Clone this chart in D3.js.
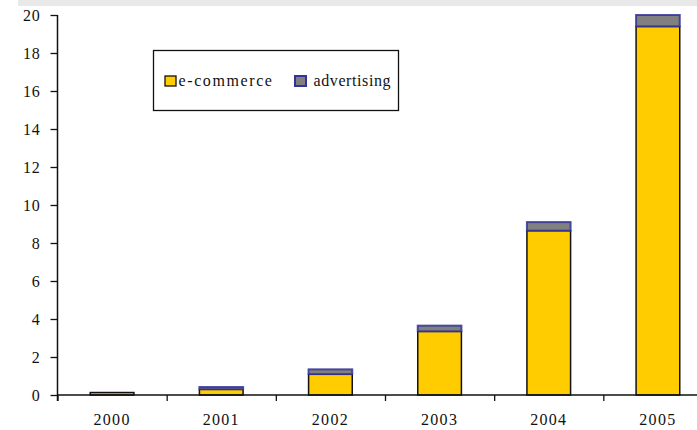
<!DOCTYPE html>
<html>
<head>
<meta charset="utf-8">
<script src="https://cdn.jsdelivr.net/npm/d3@7"></script>
<style>
  html, body { margin: 0; padding: 0; background: #fff; }
  svg { display: block; }
  text { font-family: "Liberation Serif", "Times New Roman", serif; fill: #111; }
</style>
</head>
<body>
<svg id="chart" width="697" height="430"></svg>
<script>
// Revenue by year, split into e-commerce and advertising
const years = ["2000", "2001", "2002", "2003", "2004", "2005"];
const ecommerce = [0.13, 0.3, 1.1, 3.35, 8.65, 19.4];
const advertising = [0, 0.12, 0.25, 0.3, 0.45, 0.6];
const seriesNames = ["e-commerce", "advertising"];
const yTicks = [0, 2, 4, 6, 8, 10, 12, 14, 16, 18, 20];

const svg = d3.select("#chart");
const W = 697, H = 430;
const serif = "'Liberation Serif', 'Times New Roman', serif";

// light band across the top
svg.append("rect")
  .attr("x", 18).attr("y", 0)
  .attr("width", W - 18).attr("height", 6)
  .attr("fill", "#e9e9e9");

const plotLeft = 57.5, plotTop = 15, plotBottom = 395;
const x = d3.scaleBand()
  .domain(years)
  .range([plotLeft, 712.5])
  .paddingInner(0.6)
  .paddingOuter(0.3);
const y = d3.scaleLinear().domain([0, 20]).range([plotBottom, plotTop]);

const rows = years.map((yr, i) => ({ year: yr, "e-commerce": ecommerce[i], "advertising": advertising[i] }));
const stacked = d3.stack().keys(seriesNames)(rows);

const fills = { "e-commerce": "#ffcc00", "advertising": "#808080" };
const strokes = { "e-commerce": "#111", "advertising": "#333399" };
const strokeW = { "e-commerce": 1.5, "advertising": 2 };

// bars: e-commerce first, advertising on top (empty segments skipped)
svg.append("g").selectAll("g")
  .data(stacked)
  .join("g")
  .each(function (layer) {
    d3.select(this).selectAll("rect")
      .data(layer.filter(d => d[1] > d[0]))
      .join("rect")
      .attr("x", d => x(d.data.year))
      .attr("width", x.bandwidth())
      .attr("y", d => y(d[1]))
      .attr("height", d => y(d[0]) - y(d[1]))
      .attr("fill", fills[layer.key])
      .attr("stroke", strokes[layer.key])
      .attr("stroke-opacity", layer.key === "advertising" ? 0.85 : 1)
      .attr("stroke-width", strokeW[layer.key]);
  });

// y axis
const yAxis = d3.axisLeft(y).tickValues(yTicks).tickSize(7).tickPadding(10).tickFormat(d3.format("d"));
const gy = svg.append("g").attr("transform", `translate(${plotLeft},0)`).call(yAxis);
gy.select(".domain").remove();
gy.selectAll(".tick line").attr("stroke", "#111").attr("stroke-width", 1.3);
gy.selectAll(".tick text")
  .style("font-family", serif)
  .style("font-size", "16px")
  .style("letter-spacing", "0.8px")
  .attr("fill", "#111");
svg.append("line")
  .attr("x1", plotLeft).attr("x2", plotLeft)
  .attr("y1", plotTop).attr("y2", plotBottom + 6)
  .attr("stroke", "#111").attr("stroke-width", 1.5);

// x axis: baseline, boundary ticks, year labels
svg.append("line")
  .attr("x1", plotLeft).attr("x2", W)
  .attr("y1", plotBottom).attr("y2", plotBottom)
  .attr("stroke", "#111").attr("stroke-width", 1.5);

const step = x.step();
const boundaries = d3.range(years.length + 1);
const xb = d3.scaleLinear().domain([0, years.length]).range([plotLeft, plotLeft + step * years.length]);
const gxTicks = svg.append("g").attr("transform", `translate(0,${plotBottom})`)
  .call(d3.axisBottom(xb).tickValues(boundaries).tickSize(6).tickFormat(""));
gxTicks.select(".domain").remove();
gxTicks.selectAll(".tick line").attr("stroke", "#111").attr("stroke-width", 1.3);

const gx = svg.append("g").attr("transform", `translate(0,${plotBottom})`)
  .call(d3.axisBottom(x).tickSize(0).tickPadding(19));
gx.select(".domain").remove();
gx.selectAll(".tick text")
  .style("font-family", serif)
  .style("font-size", "16px")
  .style("letter-spacing", "1.3px")
  .attr("fill", "#111");

// legend
const lg = svg.append("g");
lg.append("rect")
  .attr("x", 153.5).attr("y", 50.5)
  .attr("width", 245).attr("height", 60)
  .attr("fill", "#fff").attr("stroke", "#111").attr("stroke-width", 1.3);
const legendPos = [{ sx: 165, tx: 178.5, ls: "1.6px" }, { sx: 295, tx: 313.5, ls: "0.6px" }];
seriesNames.forEach((name, i) => {
  lg.append("rect")
    .attr("x", legendPos[i].sx).attr("y", 76)
    .attr("width", 11).attr("height", 10)
    .attr("fill", fills[name])
    .attr("stroke", strokes[name])
    .attr("stroke-width", name === "advertising" ? 2 : 1.3);
  lg.append("text")
    .attr("x", legendPos[i].tx).attr("y", 86)
    .style("font-family", serif)
    .style("font-size", "16px")
    .style("letter-spacing", legendPos[i].ls)
    .text(name);
});
</script>
</body>
</html>
